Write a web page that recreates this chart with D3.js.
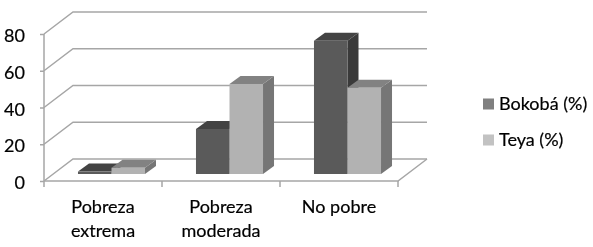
<!DOCTYPE html>
<html>
<head>
<meta charset="utf-8">
<script src="https://cdn.jsdelivr.net/npm/d3@7"></script>
<style>
	html, body {margin: 0; padding: 0; background: #fff;}
	svg {filter: blur(0.35px);}
	text {font-family: Lato, "Open Sans", sans-serif; fill: #000; stroke: #000; stroke-width: 0.2;}
	.axis path {display: none;}
	.axis line {stroke: #a6a6a6; stroke-width: 1.5;}
</style>
</head>
<body>
<div id="chart"></div>
<script>
// values
const CATEGORIES = ["Pobreza extrema", "Pobreza moderada", "No pobre"];
const SERIES_NAMES = ["Bokobá (%)", "Teya (%)"];
const BOKOBA = [1.3, 24.5, 72.5];
const TEYA = [3.4, 49, 47];
const Y_TICKS = [0, 20, 40, 60, 80];

const FRAME_WIDTH = 593;
const FRAME_HEIGHT = 247;

// front plane of the 3d box
const LEFT = 44, RIGHT = 398, TOP = 34, BOTTOM = 181;
// depth of the box and of the bars
const DEPTH_X = 29, DEPTH_Y = 22;
const BAR_SHIFT_X = 8.5, BAR_SHIFT_Y = 7;
const BAR_DEPTH_X = 11, BAR_DEPTH_Y = 8;

const COLORS = [
	{front: "#5a5a5a", top: "#434343", side: "#3a3a3a", key: "#808080"},
	{front: "#b2b2b2", top: "#828282", side: "#767676", key: "#c2c2c2"}
];

const FRAME = d3.select("#chart")
	.append("svg")
		.attr("width", FRAME_WIDTH)
		.attr("height", FRAME_HEIGHT)
		.style("display", "block");

const X_SCALE = d3.scaleBand()
	.domain(CATEGORIES)
	.range([LEFT, RIGHT]);

const X_INNER = d3.scaleBand()
	.domain(SERIES_NAMES)
	.range([0, X_SCALE.bandwidth()])
	.paddingInner(0)
	.paddingOuter(0.76);

const Y_SCALE = d3.scaleLinear()
	.domain([0, 80])
	.range([BOTTOM, TOP]);

const WALL = "#a6a6a6";

// gridlines on the back wall and the slanted side wall
Y_TICKS.forEach(t => {
	const y = Y_SCALE(t);
	FRAME.append("polyline")
		.attr("points", [[LEFT, y], [LEFT + DEPTH_X, y - DEPTH_Y], [RIGHT + DEPTH_X, y - DEPTH_Y]].join(" "))
		.attr("fill", "none")
		.attr("stroke", WALL)
		.attr("stroke-width", 1.5);
});

// left wall edge, floor front and right edges
FRAME.append("polyline")
	.attr("points", [[LEFT, TOP], [LEFT, BOTTOM], [RIGHT, BOTTOM], [RIGHT + DEPTH_X, BOTTOM - DEPTH_Y]].join(" "))
	.attr("fill", "none")
	.attr("stroke", WALL)
	.attr("stroke-width", 1.5);

// bars, one series after the other so the lighter one sits on top
[BOKOBA, TEYA].forEach((values, s) => {
	const g = FRAME.append("g");
	const w = X_INNER.bandwidth();
	values.forEach((v, i) => {
		const x0 = X_SCALE(CATEGORIES[i]) + X_INNER(SERIES_NAMES[s]) + BAR_SHIFT_X;
		const x1 = x0 + w;
		const yBase = Y_SCALE(0) - BAR_SHIFT_Y;
		const yTop = yBase - (Y_SCALE(0) - Y_SCALE(v));
		// side face
		g.append("polygon")
			.attr("points", [[x1, yBase], [x1 + BAR_DEPTH_X, yBase - BAR_DEPTH_Y], [x1 + BAR_DEPTH_X, yTop - BAR_DEPTH_Y], [x1, yTop]].join(" "))
			.attr("fill", COLORS[s].side);
		// top face
		g.append("polygon")
			.attr("points", [[x0, yTop], [x0 + BAR_DEPTH_X, yTop - BAR_DEPTH_Y], [x1 + BAR_DEPTH_X, yTop - BAR_DEPTH_Y], [x1, yTop]].join(" "))
			.attr("fill", COLORS[s].top);
		// front face
		g.append("rect")
			.attr("x", x0)
			.attr("y", yTop)
			.attr("width", w)
			.attr("height", yBase - yTop)
			.attr("fill", COLORS[s].front);
	});
});

// y axis
const yAxis = FRAME.append("g")
	.attr("class", "axis")
	.attr("transform", "translate(" + LEFT + ",0)")
	.call(d3.axisLeft(Y_SCALE).tickValues(Y_TICKS).tickSize(4).tickPadding(15));
yAxis.selectAll("text")
	.attr("dy", "0.42em")
	.style("font-size", "18px");

// category axis: ticks on band edges, labels wrapped by hand
FRAME.append("g")
	.attr("class", "axis")
	.selectAll("line")
	.data(CATEGORIES.map(c => X_SCALE(c)).concat([RIGHT]))
	.enter().append("line")
		.attr("x1", d => d)
		.attr("x2", d => d)
		.attr("y1", BOTTOM)
		.attr("y2", BOTTOM + 6);

FRAME.selectAll(".cat")
	.data(CATEGORIES)
	.enter().append("text")
		.attr("class", "cat")
		.attr("text-anchor", "middle")
		.style("font-size", "18px")
		.each(function (d) {
			const cx = X_SCALE(d) + X_SCALE.bandwidth() / 2;
			const lines = d === "No pobre" ? [d] : d.split(" ");
			d3.select(this).selectAll("tspan")
				.data(lines)
				.enter().append("tspan")
					.attr("x", cx)
					.attr("y", (l, i) => 213 + i * 24)
					.text(l => l);
		});

// legend
const LEGEND_Y = d3.scalePoint()
	.domain(SERIES_NAMES)
	.range([104, 140]);

SERIES_NAMES.forEach((name, s) => {
	FRAME.append("rect")
		.attr("x", 483)
		.attr("y", LEGEND_Y(name) - 5.5)
		.attr("width", 11)
		.attr("height", 11)
		.attr("fill", COLORS[s].key);
	FRAME.append("text")
		.attr("x", 499)
		.attr("y", LEGEND_Y(name) + 6)
		.style("font-size", "18px")
		.text(name);
});
</script>
</body>
</html>
